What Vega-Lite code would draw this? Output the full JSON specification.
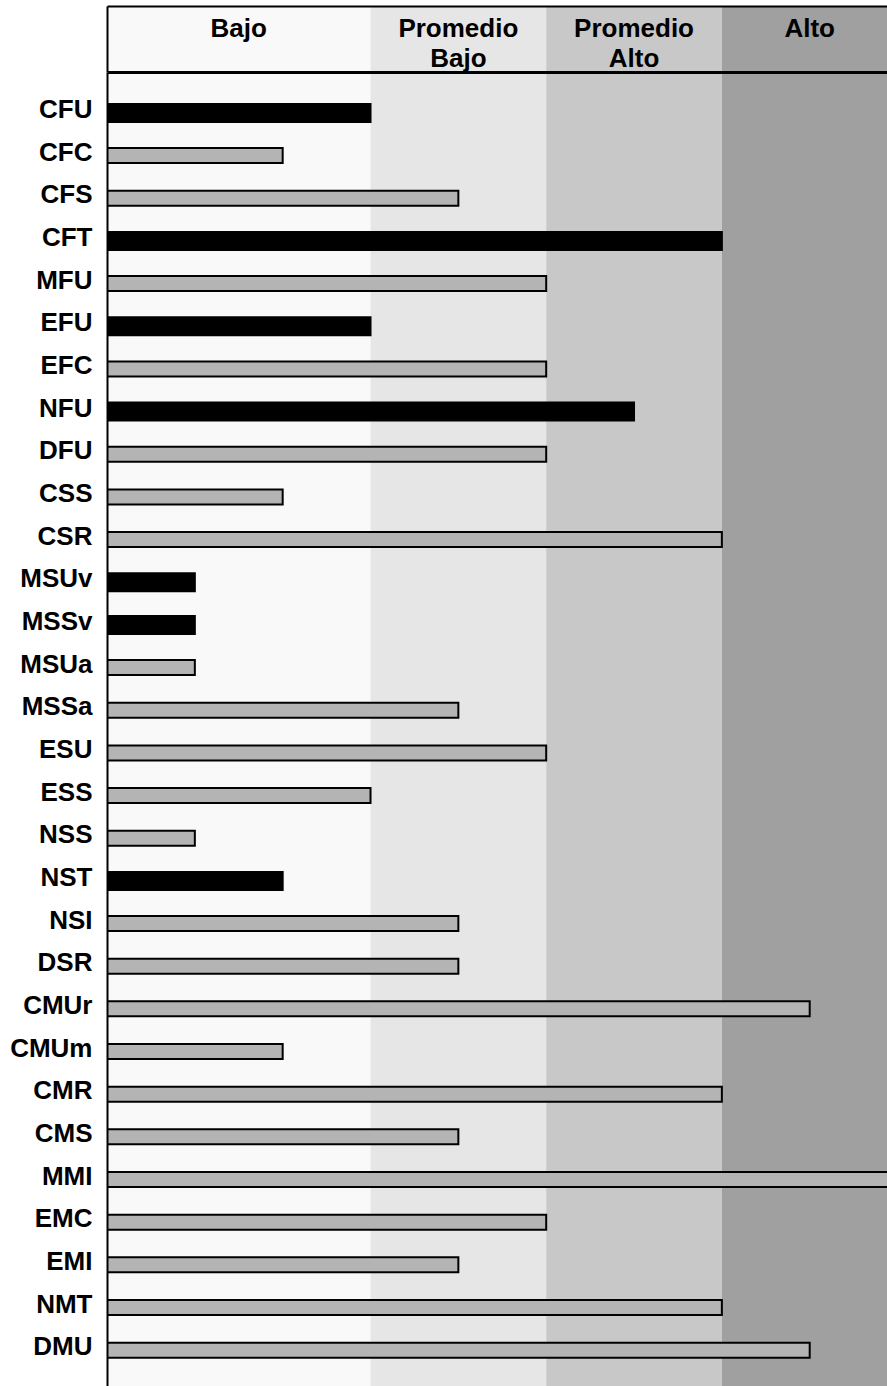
{
  "$schema": "https://vega.github.io/schema/vega-lite/v6.json",
  "background": "white",
  "padding": {"left": 0, "right": 0, "top": 6, "bottom": 0},
  "spacing": 0,
  "config": {"view": {"stroke": null}, "font": "Liberation Sans"},
  "datasets": {
    "niveles": [
      {"nivel": "Bajo", "desde": 0, "hasta": 3},
      {"nivel": "Promedio Bajo", "desde": 3, "hasta": 5},
      {"nivel": "Promedio Alto", "desde": 5, "hasta": 7},
      {"nivel": "Alto", "desde": 7, "hasta": 9}
    ],
    "encabezado": [
      {"texto": "Bajo", "linea": 1, "centro": 1.5},
      {"texto": "Promedio", "linea": 1, "centro": 4},
      {"texto": "Bajo", "linea": 2, "centro": 4},
      {"texto": "Promedio", "linea": 1, "centro": 6},
      {"texto": "Alto", "linea": 2, "centro": 6},
      {"texto": "Alto", "linea": 1, "centro": 8}
    ],
    "pruebas": [
      {"prueba": "CFU", "valor": 3, "tipo": "destacado"},
      {"prueba": "CFC", "valor": 2, "tipo": "normal"},
      {"prueba": "CFS", "valor": 4, "tipo": "normal"},
      {"prueba": "CFT", "valor": 7, "tipo": "destacado"},
      {"prueba": "MFU", "valor": 5, "tipo": "normal"},
      {"prueba": "EFU", "valor": 3, "tipo": "destacado"},
      {"prueba": "EFC", "valor": 5, "tipo": "normal"},
      {"prueba": "NFU", "valor": 6, "tipo": "destacado"},
      {"prueba": "DFU", "valor": 5, "tipo": "normal"},
      {"prueba": "CSS", "valor": 2, "tipo": "normal"},
      {"prueba": "CSR", "valor": 7, "tipo": "normal"},
      {"prueba": "MSUv", "valor": 1, "tipo": "destacado"},
      {"prueba": "MSSv", "valor": 1, "tipo": "destacado"},
      {"prueba": "MSUa", "valor": 1, "tipo": "normal"},
      {"prueba": "MSSa", "valor": 4, "tipo": "normal"},
      {"prueba": "ESU", "valor": 5, "tipo": "normal"},
      {"prueba": "ESS", "valor": 3, "tipo": "normal"},
      {"prueba": "NSS", "valor": 1, "tipo": "normal"},
      {"prueba": "NST", "valor": 2, "tipo": "destacado"},
      {"prueba": "NSI", "valor": 4, "tipo": "normal"},
      {"prueba": "DSR", "valor": 4, "tipo": "normal"},
      {"prueba": "CMUr", "valor": 8, "tipo": "normal"},
      {"prueba": "CMUm", "valor": 2, "tipo": "normal"},
      {"prueba": "CMR", "valor": 7, "tipo": "normal"},
      {"prueba": "CMS", "valor": 4, "tipo": "normal"},
      {"prueba": "MMI", "valor": 9, "tipo": "normal"},
      {"prueba": "EMC", "valor": 5, "tipo": "normal"},
      {"prueba": "EMI", "valor": 4, "tipo": "normal"},
      {"prueba": "NMT", "valor": 7, "tipo": "normal"},
      {"prueba": "DMU", "valor": 8, "tipo": "normal"}
    ]
  },
  "vconcat": [
    {
      "width": 780,
      "height": 66,
      "layer": [
        {
          "data": {"name": "niveles"},
          "mark": {"type": "rect", "clip": true},
          "encoding": {
            "x": {"field": "desde", "type": "quantitative",
              "scale": {"domain": [0, 8.88], "nice": false, "zero": false},
              "axis": {"orient": "top", "labels": false, "ticks": false, "tickSize": 0, "grid": false, "domain": true, "domainColor": "#000000", "domainWidth": 2, "title": null, "zindex": 1}},
            "x2": {"field": "hasta"},
            "fill": {"field": "nivel", "type": "nominal",
              "scale": {"domain": ["Bajo", "Promedio Bajo", "Promedio Alto", "Alto"], "range": ["#f9f9f9", "#e6e6e6", "#c8c8c8", "#a0a0a0"]},
              "legend": null}
          }
        },
        {
          "data": {"name": "encabezado"},
          "mark": {"type": "text", "fontSize": 26, "fontWeight": "bold", "baseline": "alphabetic", "align": "center", "color": "#000000", "font": "Liberation Sans"},
          "encoding": {
            "x": {"field": "centro", "type": "quantitative", "scale": {"domain": [0, 8.88], "nice": false, "zero": false}},
            "y": {"field": "linea", "type": "ordinal",
              "scale": {"type": "point", "padding": 0.6, "align": 0.86},
              "axis": {"labels": false, "ticks": false, "tickSize": 0, "grid": false, "domain": true, "domainColor": "#000000", "domainWidth": 2, "title": null, "minExtent": 107, "maxExtent": 107, "zindex": 1}},
            "text": {"field": "texto"}
          }
        }
      ]
    },
    {
      "width": 780,
      "height": 1314,
      "layer": [
        {
          "data": {"name": "niveles"},
          "mark": {"type": "rect", "clip": true},
          "encoding": {
            "x": {"field": "desde", "type": "quantitative",
              "scale": {"domain": [0, 8.88], "nice": false, "zero": false},
              "axis": {"orient": "top", "labels": false, "ticks": false, "tickSize": 0, "grid": false, "domain": true, "domainColor": "#000000", "domainWidth": 3, "title": null, "zindex": 1}},
            "x2": {"field": "hasta"},
            "fill": {"field": "nivel", "type": "nominal",
              "scale": {"domain": ["Bajo", "Promedio Bajo", "Promedio Alto", "Alto"], "range": ["#f9f9f9", "#e6e6e6", "#c8c8c8", "#a0a0a0"]},
              "legend": null}
          }
        },
        {
          "data": {"name": "pruebas"},
          "mark": {"type": "bar", "clip": true, "stroke": "#000000", "strokeWidth": 2},
          "encoding": {
            "y": {"field": "prueba", "type": "nominal", "sort": null,
              "scale": {"paddingInner": 0, "paddingOuter": 0.4, "align": 0.575},
              "axis": {"labelFont": "Liberation Sans", "labelFontSize": 26, "labelFontWeight": "bold", "labelColor": "#000000", "labelPadding": 15, "labelOffset": -3, "labelLimit": 300, "ticks": false, "tickSize": 0, "grid": false, "domain": true, "domainColor": "#000000", "domainWidth": 2, "title": null, "minExtent": 107, "maxExtent": 107, "zindex": 1}},
            "x": {"field": "valor", "type": "quantitative", "scale": {"domain": [0, 8.88], "nice": false, "zero": false}},
            "color": {"field": "tipo", "type": "nominal",
              "scale": {"domain": ["destacado", "normal"], "range": ["#000000", "#b4b4b4"]},
              "legend": null},
            "size": {"condition": {"test": "datum.tipo === 'destacado'", "value": 18}, "value": 15}
          }
        }
      ],
      "resolve": {"scale": {"color": "independent"}}
    }
  ]
}
